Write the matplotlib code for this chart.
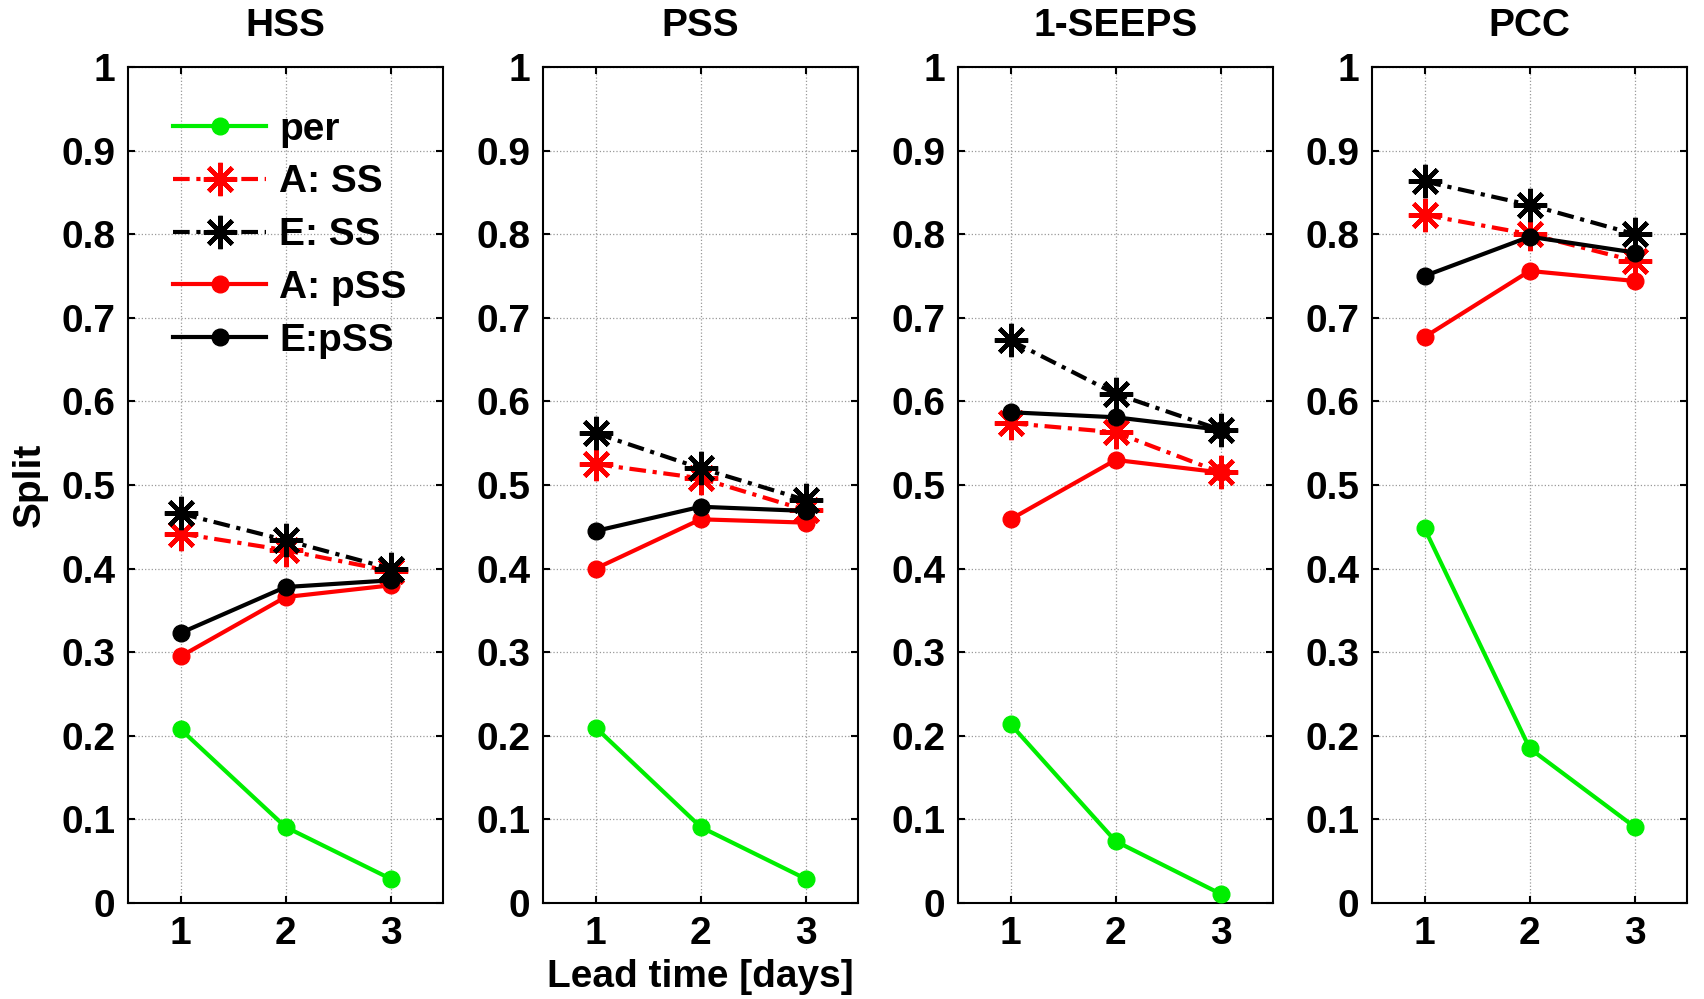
import matplotlib
matplotlib.use("Agg")
import matplotlib.pyplot as plt

plt.rcParams['font.family'] = ['Liberation Sans', 'DejaVu Sans']
plt.rcParams['font.weight'] = 'bold'

lead = [1, 2, 3]
titles = ["HSS", "PSS", "1-SEEPS", "PCC"]
series_names = ["per", "A: SS", "E: SS", "A: pSS", "E:pSS"]

per = [[0.208, 0.091, 0.029], [0.210, 0.091, 0.029], [0.214, 0.074, 0.011], [0.448, 0.185, 0.091]]
a_ss = [[0.442, 0.422, 0.397], [0.525, 0.508, 0.470], [0.574, 0.563, 0.515], [0.823, 0.800, 0.768]]
e_ss = [[0.466, 0.434, 0.400], [0.562, 0.520, 0.482], [0.673, 0.609, 0.566], [0.863, 0.835, 0.800]]
a_pss = [[0.295, 0.366, 0.380], [0.400, 0.459, 0.455], [0.459, 0.530, 0.515], [0.677, 0.756, 0.744]]
e_pss = [[0.323, 0.378, 0.386], [0.445, 0.474, 0.469], [0.587, 0.581, 0.566], [0.750, 0.797, 0.778]]

yticks = [0, 0.1, 0.2, 0.3, 0.4, 0.5, 0.6, 0.7, 0.8, 0.9, 1]
yticklabels = ["0", "0.1", "0.2", "0.3", "0.4", "0.5", "0.6", "0.7", "0.8", "0.9", "1"]

fig = plt.figure(figsize=(17.04, 9.99), dpi=100)
lefts = [0.0751, 0.3187, 0.5622, 0.8052]
w, b, h = 0.185, 0.096, 0.837
dashdot = (0, (4, 1.6, 1, 1.6))
ast = (8, 2, 0)
fs = 28

for i in range(4):
    ax = fig.add_axes([lefts[i], b, w, h])
    lw = 3.0
    ax.plot(lead, per[i], '-', color='#00ee00', lw=lw, marker='o', ms=12, label=series_names[0], zorder=3)
    ax.plot(lead, a_ss[i], color='red', ls=dashdot, lw=lw, marker=ast, ms=24, mew=3.2, label=series_names[1], zorder=3)
    ax.plot(lead, e_ss[i], color='black', ls=dashdot, lw=lw, marker=ast, ms=24, mew=3.2, label=series_names[2], zorder=4)
    ax.plot(lead, a_pss[i], '-', color='red', lw=lw, marker='o', ms=12, label=series_names[3], zorder=3)
    ax.plot(lead, e_pss[i], '-', color='black', lw=lw, marker='o', ms=12, label=series_names[4], zorder=4)
    ax.set_xlim(0.5, 3.5)
    ax.set_ylim(0, 1)
    ax.set_xticks(lead)
    ax.set_xticklabels([str(v) for v in lead])
    ax.set_yticks(yticks)
    ax.set_yticklabels(yticklabels)
    ax.tick_params(direction='in', length=5, width=1.5, top=True, right=True,
                   labelsize=fs, pad=9)
    for lab in ax.get_xticklabels() + ax.get_yticklabels():
        lab.set_fontweight('bold')
    ax.grid(True, ls=':', color='#999999', lw=0.9)
    for s in ax.spines.values():
        s.set_linewidth(1.5)
    ax.set_title(titles[i], fontsize=fs, fontweight='bold', pad=22)
    if i == 0:
        ax.set_ylabel("Split", fontsize=fs, fontweight='bold', labelpad=10)
        ax.legend(loc='upper left', bbox_to_anchor=(0.095, 0.965), frameon=False,
                  prop={'size': fs, 'weight': 'bold'}, handlelength=2.37,
                  handletextpad=0.35, labelspacing=0.43, borderaxespad=0)
    if i == 1:
        ax.set_xlabel("Lead time [days]", fontsize=fs, fontweight='bold', labelpad=5)

fig.savefig("out.png", dpi=100)
